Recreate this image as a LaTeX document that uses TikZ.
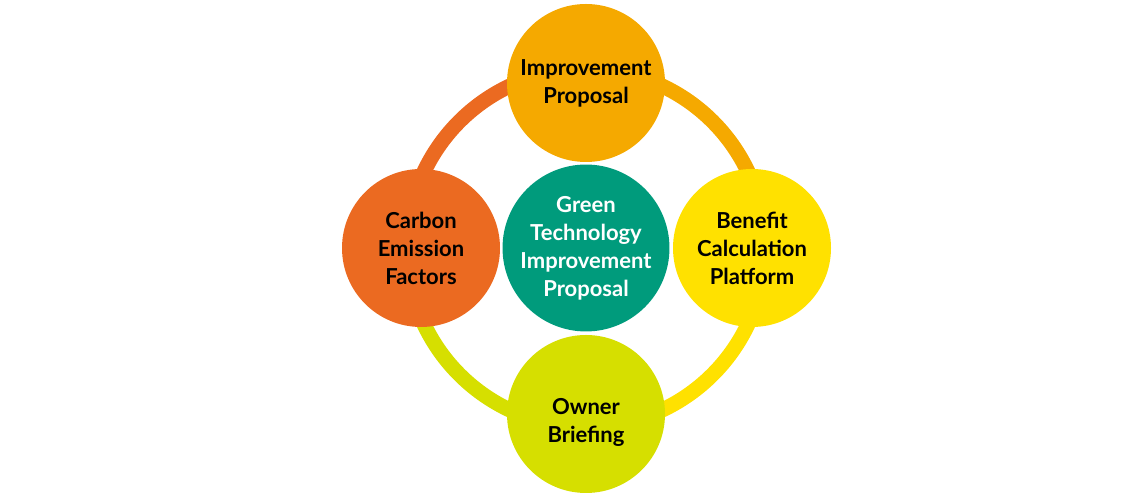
\documentclass[tikz,border=0pt]{standalone}
\usepackage{fontspec}
\setmainfont{Lato}
\usepackage{tikz}
\usetikzlibrary{calc}
\definecolor{carbonred}{HTML}{EB6A21}
\definecolor{improveorange}{HTML}{F5A900}
\definecolor{benefityellow}{HTML}{FFE100}
\definecolor{ownerlime}{HTML}{D6DF00}
\definecolor{greenteal}{HTML}{009B7C}
\tikzset{
  every node/.style = {font = \fontsize{16.5}{21}\selectfont\bfseries}
}
\tikzset{
  stage/.style = {circle, minimum size=118.5pt, inner sep=0pt,
    align=center, text=black},
  ring part/.style = {line width=11.25pt}
}

\begin{document}
\begin{tikzpicture}[x=0.75pt, y=0.75pt]
  \useasboundingbox (0,0) rectangle (1140,495);
  \coordinate (hub) at (586,247);

  \draw[ring part, carbonred] ($(hub)+(0,179)$) arc[start angle=90, end angle=180, radius=179];
  \draw[ring part, improveorange] ($(hub)+(0,179)$) arc[start angle=90, end angle=0, radius=179];
  \draw[ring part, benefityellow] ($(hub)+(179,0)$) arc[start angle=0, end angle=-90, radius=179];
  \draw[ring part, ownerlime] ($(hub)+(-179,0)$) arc[start angle=180, end angle=270, radius=179];

  \node[stage, fill=improveorange] (improve) at (586,412) {Improvement\\Proposal};
  \node[stage, fill=carbonred] (carbon) at (421,247) {Carbon\\Emission\\Factors};
  \node[stage, fill=benefityellow] (benefit) at (752,247) {Benefit\\Calculation\\Platform};
  \node[stage, fill=ownerlime] (owner) at (586,81) {};
  \node[align=center] (owner text) at ($(owner)+(0,-8)$) {Owner\\Briefing};
  \node[stage, fill=greenteal, text=white] (green) at (hub)
    {Green\\Technology\\Improvement\\Proposal};
\end{tikzpicture}
\end{document}
